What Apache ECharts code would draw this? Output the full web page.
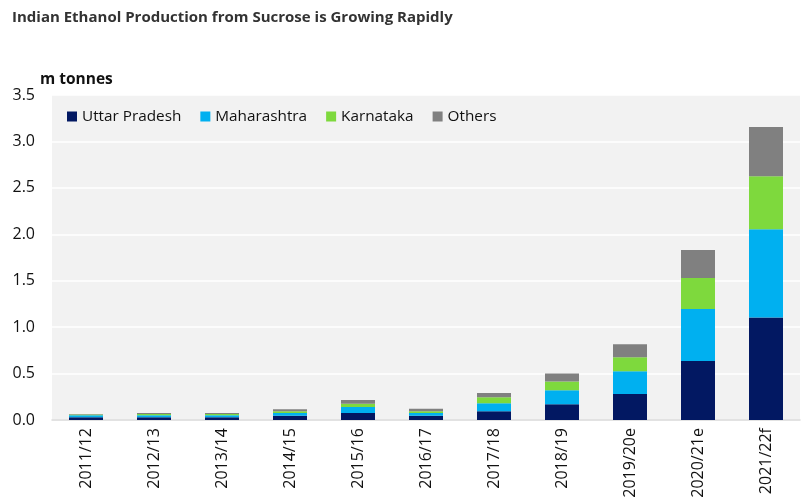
<!DOCTYPE html>
<html><head><meta charset="utf-8">
<script src="https://cdn.jsdelivr.net/npm/echarts@6/dist/echarts.min.js"></script>
<style>html,body{margin:0;padding:0;background:#fff}#c{width:810px;height:499px}</style>
</head><body><div id="c"></div>
<script>
const categories = ['2011/12','2012/13','2013/14','2014/15','2015/16','2016/17','2017/18','2018/19','2019/20e','2020/21e','2021/22f'];
const uttarPradesh = [0.03,0.03,0.03,0.045,0.075,0.045,0.095,0.17,0.28,0.635,1.105];
const maharashtra  = [0.02,0.02,0.02,0.03,0.065,0.03,0.085,0.15,0.245,0.56,0.95];
const karnataka    = [0.01,0.015,0.015,0.02,0.035,0.02,0.065,0.095,0.15,0.335,0.57];
const others       = [0.005,0.01,0.01,0.02,0.04,0.025,0.045,0.085,0.14,0.30,0.53];
const yTicks = [0,0.5,1.0,1.5,2.0,2.5,3.0,3.5];

const font = '"Open Sans", "Noto Sans", sans-serif';
const chart = echarts.init(document.getElementById('c'));
const mk = (name, data, color) => ({name, type:'bar', stack:'t', data, barWidth:34, itemStyle:{color}});
chart.setOption({
  animation:false,
  textStyle:{fontFamily:font},
  title:[{text:'Indian Ethanol Production from Sucrose is Growing Rapidly', left:7, top:5,
    textStyle:{fontFamily:font, fontSize:15, fontWeight:'bold', color:'#333'}},
    {text:'m tonnes', left:35, top:67, textStyle:{fontFamily:font, fontSize:15.5, fontWeight:'bold', color:'#111'}}],
  legend:{left:62, top:104, icon:'rect', itemWidth:10, itemHeight:10, itemGap:19,
    textStyle:{fontFamily:font, fontSize:15.3, color:'#111'},
    data:['Uttar Pradesh','Maharashtra','Karnataka','Others']},
  grid:{left:52, right:10, top:95, bottom:79, show:true, backgroundColor:'#f2f2f2', borderWidth:0,
    containLabel:false, outerBoundsMode:'none'},
  xAxis:{type:'category', data:categories,
    axisLine:{lineStyle:{color:'#d9d9d9', width:1.5}}, axisTick:{show:false},
    axisLabel:{rotate:90, fontSize:16, color:'#111', margin:8, interval:0, fontFamily:font}},
  yAxis:{type:'value', min:0, max:3.5, interval:0.5,
    axisLabel:{fontSize:16, color:'#111', margin:17, fontFamily:font, formatter:v=>v.toFixed(1)},
    splitLine:{lineStyle:{color:'#ffffff', width:1.5}}, axisLine:{show:false}, axisTick:{show:false}},
  series:[
    mk('Uttar Pradesh', uttarPradesh, '#021862'),
    mk('Maharashtra', maharashtra, '#00b0f0'),
    mk('Karnataka', karnataka, '#7ed93d'),
    mk('Others', others, '#808080')
  ]
});
</script></body></html>
